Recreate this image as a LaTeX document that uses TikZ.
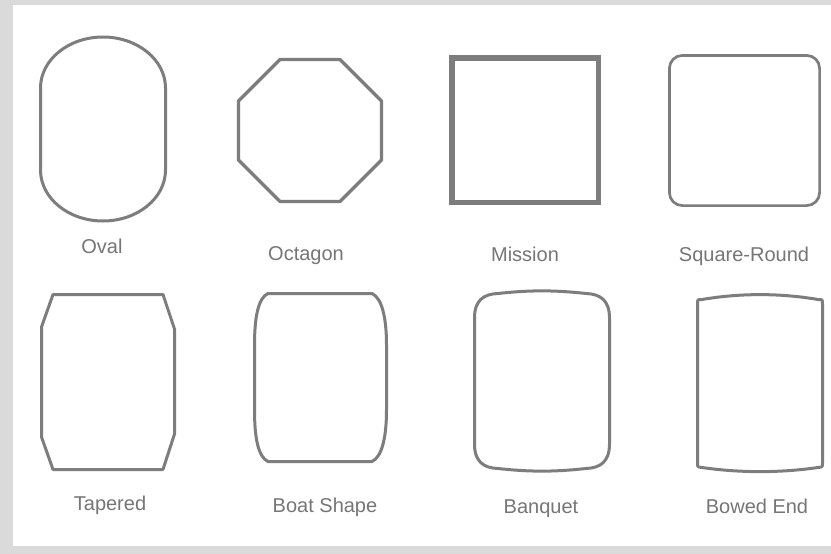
\documentclass[tikz,border=0pt]{standalone}
\usepackage{fontspec}
\setmainfont{Liberation Sans}
\usepackage{tikz}
\usetikzlibrary{positioning}
\definecolor{framegray}{RGB}{218,218,218}
\definecolor{shapegray}{RGB}{125,125,125}
\definecolor{labelgray}{RGB}{118,118,118}

\begin{document}
\begin{tikzpicture}[x=1pt,y=-1pt,
  outline/.style={draw=shapegray,line width=3pt,line join=round},
  caption/.style={anchor=base,text=labelgray,inner sep=0pt,font=\fontsize{20}{24}\selectfont}]
\useasboundingbox (0,0) rectangle (831,554);
\fill[framegray] (0,0) rectangle (831,554);
\fill[white] (13,5) rectangle (831,546);
% top row
\draw[outline] (40.5,88) arc[start angle=180,end angle=360,x radius=62.5,y radius=51] -- (165.5,170) arc[start angle=0,end angle=180,x radius=62.5,y radius=51] -- cycle;
\draw[outline,line width=3.3pt] (280,59.5) -- (340,59.5) -- (381.5,101) -- (381.5,160) -- (340,201.5) -- (280,201.5) -- (238.5,160) -- (238.5,101) -- cycle;
\draw[outline,line width=5.5pt,line join=miter] (451.75,57.75) rectangle (598.25,202.25);
\draw[outline,line width=2.7pt,rounded corners=13pt] (669.4,55.4) rectangle (819.6,205.6);
\node[caption] (oval) at (102,253) {Oval};
\node[caption] (octagon) at (306,260) {Octagon};
\node[caption] (mission) at (525,261) {Mission};
\node[caption] (squareround) at (744,261) {Square-Round};
% bottom row
\draw[outline] (53,294.5) -- (163,294.5) -- (174.5,329) -- (174.5,434) -- (163,469.5) -- (53,469.5) -- (41.5,437) -- (41.5,327) -- cycle;
\draw[outline] (268,293.5) -- (372,293.5) .. controls (382,298) and (386.5,318) .. (386.5,345) -- (386.5,410) .. controls (386.5,437) and (382,457) .. (372,461.5) -- (268,461.5) .. controls (258,457) and (254.5,437) .. (254.5,410) -- (254.5,345) .. controls (254.5,318) and (258,298) .. (268,293.5) -- cycle;
\draw[outline] (474.5,318) .. controls (474.5,300) and (484,294) .. (498,293.5) .. controls (530,290) and (554,290) .. (586,293.5) .. controls (600,294) and (609.5,300) .. (609.5,318) -- (609.5,444) .. controls (609.5,462) and (600,468) .. (586,468.5) .. controls (554,472) and (530,472) .. (498,468.5) .. controls (484,468) and (474.5,462) .. (474.5,444) -- cycle;
\draw[outline] (697.5,304) -- (697.5,463) .. controls (697.5,467) .. (702,467.5) .. controls (740,473) and (780,473) .. (818,467.5) .. controls (822.5,467) .. (822.5,463) -- (822.5,304) .. controls (822.5,299.5) .. (818,299.5) .. controls (780,293) and (740,293) .. (702,299.5) .. controls (697.5,299.5) .. (697.5,304) -- cycle;
\node[caption] (tapered) at (110,510) {Tapered};
\node[caption] (boat) at (325,512) {Boat Shape};
\node[caption] (banquet) at (541,513) {Banquet};
\node[caption] (bowed) at (757,513) {Bowed End};
\end{tikzpicture}
\end{document}
